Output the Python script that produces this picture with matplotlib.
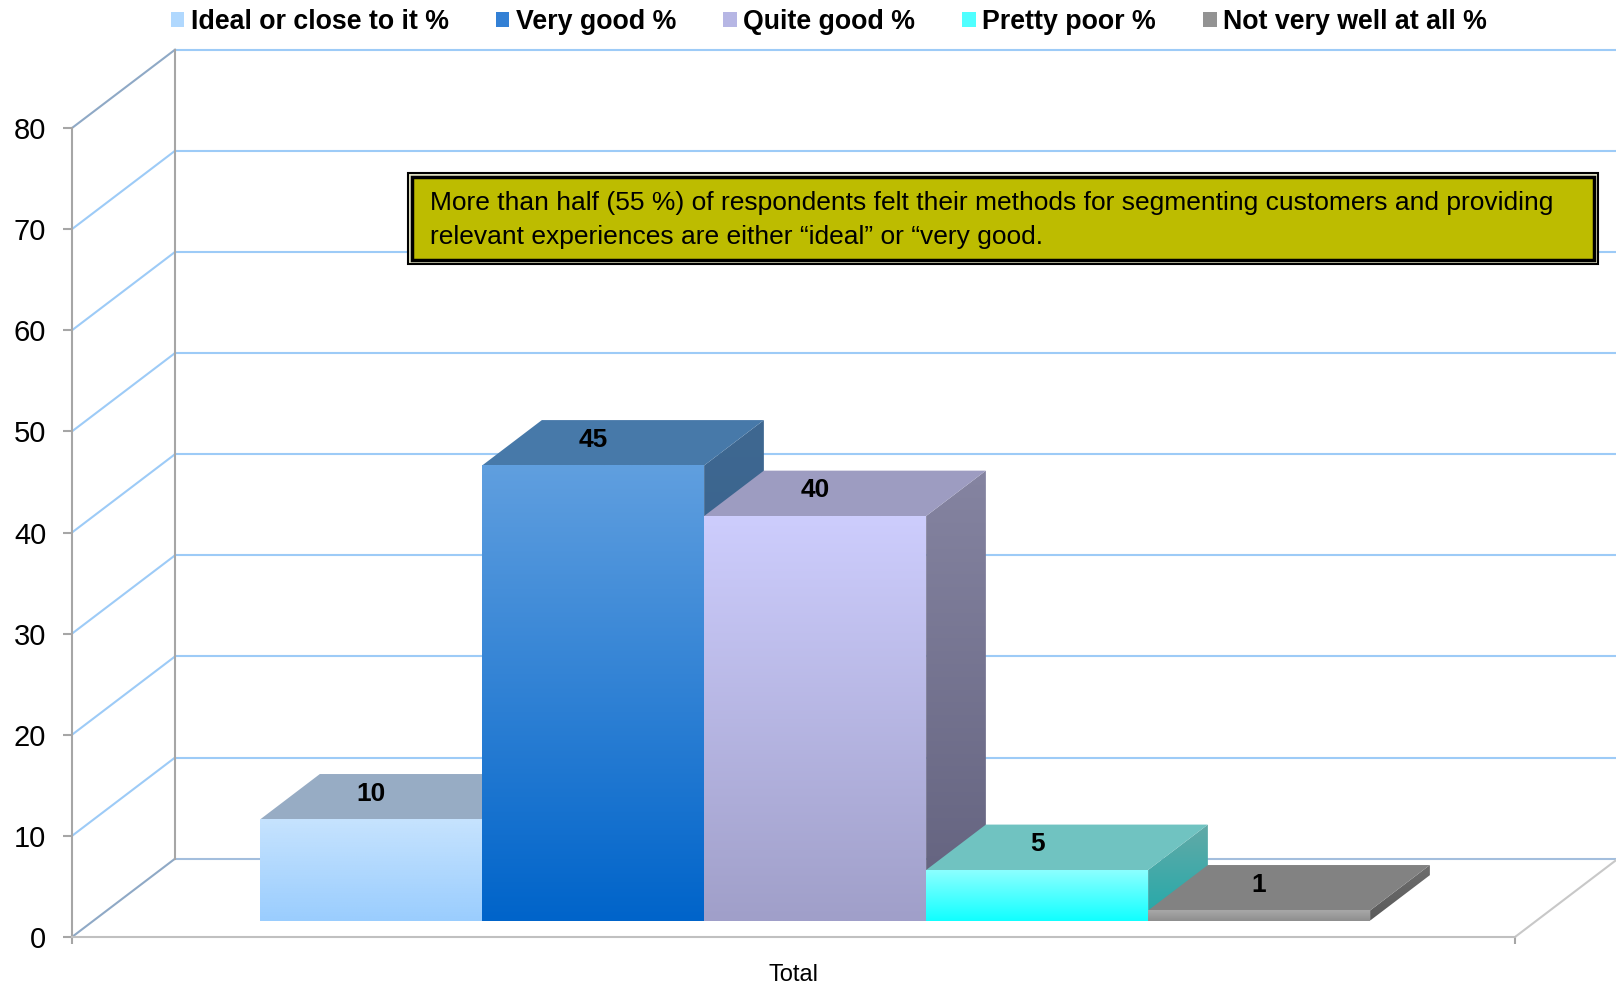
import numpy as np
import matplotlib
matplotlib.use('Agg')
import matplotlib.pyplot as plt
from matplotlib.colors import LinearSegmentedColormap
from matplotlib.patches import Polygon, Rectangle, Patch

plt.rcParams['font.family'] = ['Liberation Sans', 'DejaVu Sans']

# survey answers, one bar per answer
series = ['Ideal or close to it %', 'Very good %', 'Quite good %',
          'Pretty poor %', 'Not very well at all %']
values = [10, 45, 40, 5, 1]
category = 'Total'
y_ticks = [0, 10, 20, 30, 40, 50, 60, 70, 80]
note = ('More than half (55 %) of respondents felt their methods for segmenting customers and providing\n'
        'relevant experiences are either \u201cideal\u201d or \u201cvery good.')

# face colours per series
front_top = ['#C6E3FE', '#609FDF', '#CDCDFD', '#8CFFFF', '#A8A8A8']
front_bottom = ['#9ACDFE', '#0064CA', '#A09FC9', '#10FFFF', '#8E8E8E']
top_colors = ['#97ACC4', '#4779A9', '#9D9CC1', '#70C3C1', '#828282']
side_top = ['#7F97B3', '#3F6891', '#8584A1', '#62A9A7', '#6E6E6E']
side_bottom = ['#6F8EB8', '#2E5A88', '#62617D', '#22AAAA', '#5A5A5A']
legend_colors = ['#B0D8FE', '#3380D5', '#B6B6E4', '#4FFFFF', '#939393']

W, H = 1616, 985
fig = plt.figure(figsize=(W / 100, H / 100), dpi=100)
ax = fig.add_axes([72 / W, 1 - 937 / H, 1443 / W, 809 / H])

# oblique depth of the plot box, in data units
DX = 103 / 1443
DY = 78.3 * 80 / 809
F0, F1 = 0.21, 0.79        # front / back of the bars within the depth
GAP = 1.5
bw = 1 / (len(values) + GAP)


def gradient_face(verts, c_top, c_bottom, z):
    poly = Polygon(verts, closed=True, facecolor='none', edgecolor='none', zorder=z)
    ax.add_patch(poly)
    xs = [p[0] for p in verts]
    ys = [p[1] for p in verts]
    cmap = LinearSegmentedColormap.from_list('face', [c_bottom, c_top])
    img = ax.imshow(np.linspace(0, 1, 256).reshape(-1, 1), cmap=cmap, origin='lower',
                    extent=[min(xs), max(xs), min(ys), max(ys)], aspect='auto',
                    interpolation='bilinear', zorder=z)
    img.set_clip_path(poly)


# walls: left wall diagonals + back wall gridlines
grid_c = '#9DCBF7'
for t in y_ticks:
    left_c = '#8FA9C6' if t in (0, 80) else grid_c
    back_c = '#A3BEDD' if t == 0 else grid_c
    ax.plot([0, DX], [t, t + DY], color=left_c, lw=1.5, clip_on=False, zorder=1)
    ax.plot([DX, 1 + DX], [t + DY, t + DY], color=back_c, lw=1.5, clip_on=False, zorder=1)
ax.plot([DX, DX], [DY, 80 + DY], color='#A6A6A6', lw=1.5, clip_on=False, zorder=1)
ax.plot([1, 1 + DX], [0, DY], color='#C8C8C8', lw=1.5, clip_on=False, zorder=1)

# bars, drawn left to right so each front face hides the previous side
d = F1 - F0
for i, v in enumerate(values):
    x0 = GAP / 2 * bw + i * bw + F0 * DX
    x1 = x0 + bw
    y0 = F0 * DY
    y1 = v + F0 * DY
    z = 3 + i
    gradient_face([(x1, y0), (x1, y1), (x1 + d * DX, y1 + d * DY), (x1 + d * DX, y0 + d * DY)],
                  side_top[i], side_bottom[i], z)
    ax.add_patch(Polygon([(x0, y1), (x1, y1), (x1 + d * DX, y1 + d * DY), (x0 + d * DX, y1 + d * DY)],
                         closed=True, facecolor=top_colors[i], edgecolor='none', zorder=z))
    gradient_face([(x0, y0), (x1, y0), (x1, y1), (x0, y1)], front_top[i], front_bottom[i], z)
    ax.text(x0 + bw / 2, v + (F0 + F1) / 2 * DY + 0.3, str(v), ha='center', va='center',
            fontsize=19, fontweight='bold', zorder=20)

ax.set_xlim(0, 1)
ax.set_ylim(0, 80)

# axes: front value axis and floor edge
for s in ('top', 'right'):
    ax.spines[s].set_visible(False)
ax.spines['left'].set_color('#A6A6A6')
ax.spines['left'].set_linewidth(1.5)
ax.spines['bottom'].set_color('#C0C0C0')
ax.spines['bottom'].set_linewidth(1.5)
ax.set_yticks(y_ticks)
ax.tick_params(axis='y', length=6.5, width=1.5, color='#A6A6A6', labelsize=21, pad=12)
ax.set_xticks([0.5], [category])
ax.set_xticks([0, 1], minor=True)
ax.tick_params(axis='x', which='major', length=0, labelsize=17, pad=19.5)
ax.tick_params(axis='x', which='minor', length=5, width=1.5, color='#A6A6A6')

handles = [Patch(facecolor=c, edgecolor='none') for c in legend_colors]
fig.legend(handles, series, loc='center', bbox_to_anchor=(829 / W, 1 - 22 / H), ncol=5,
           frameon=False, prop=dict(weight='bold', size=19.3), handlelength=0.5,
           handleheight=0.5, handletextpad=0.25, columnspacing=1.75, borderaxespad=0)

# callout box with double border
bx, by, bwid, bh = 408, 173, 1190, 91
fig.add_artist(Rectangle((bx / W, 1 - (by + bh) / H), bwid / W, bh / H, transform=fig.transFigure,
                         facecolor='#E6E6C8', edgecolor='black', lw=1.5, zorder=30))
ins = 4
fig.add_artist(Rectangle(((bx + ins) / W, 1 - (by + bh - ins) / H), (bwid - 2 * ins) / W,
                         (bh - 2 * ins) / H, transform=fig.transFigure,
                         facecolor='#BDBC00', edgecolor='black', lw=2.5, zorder=31))
fig.text(430 / W, 1 - 220 / H, note, ha='left', va='center', fontsize=19, linespacing=1.48,
         zorder=32)

fig.savefig('out.png', dpi=100)
